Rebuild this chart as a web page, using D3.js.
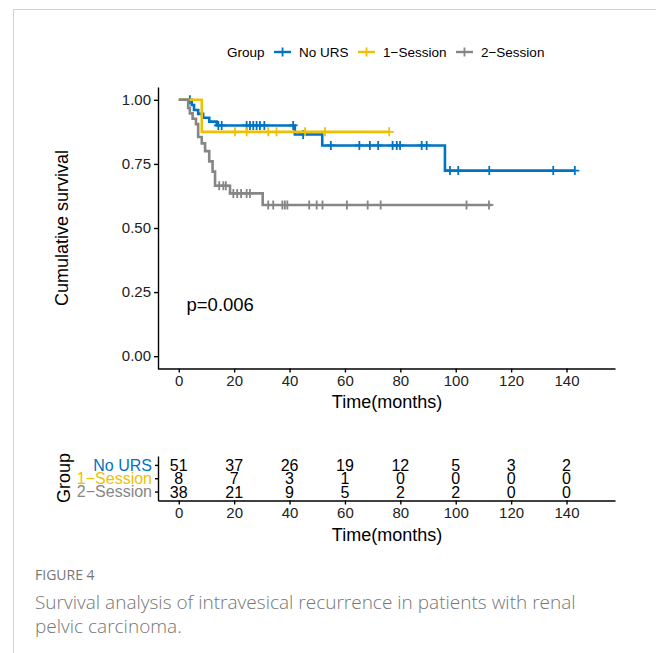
<!DOCTYPE html>
<meta charset="utf-8">
<html>
<head>
<title>Survival analysis of intravesical recurrence</title>
<style>
  body { margin: 0; background: #fff; }
  svg text { font-family: 'Liberation Sans', Arial, sans-serif; fill: #000; }
  .axis path, .axis line { stroke: #000; stroke-width: 1.4px; }
  .axis text { font-size: 15px; fill: #222; }
  .caption { font-family: 'Open Sans', sans-serif !important; fill: #767676 !important; }
</style>
</head>
<body>
<svg width="656" height="653"></svg>
<script src="https://cdn.jsdelivr.net/npm/d3@7"></script>
<script>

// ---- data ----
var groups = ["No URS", "1\u2212Session", "2\u2212Session"];
var colors = ["#0073C2", "#EFC000", "#868686"];

// step function of each KM curve: time (months) where survival drops, and new level
var stepTimes = [
  [0, 4.7, 5.5, 7.0, 8.8, 11.0, 13.7, 41.9, 51.8, 96.1],
  [0, 8.3],
  [0, 3.4, 4.0, 5.0, 6.2, 7.0, 8.3, 9.5, 11.0, 12.2, 13.1, 18.5, 30.3]
];
var stepSurv = [
  [1, 0.98, 0.96, 0.945, 0.93, 0.915, 0.90, 0.865, 0.822, 0.724],
  [1, 0.875],
  [1, 0.968, 0.947, 0.926, 0.905, 0.855, 0.83, 0.80, 0.76, 0.72, 0.665, 0.635, 0.59]
];
var endTimes = [143, 76, 113];
var censorTimes = [
  [4.0, 14.3, 15.5, 24.5, 25.7, 26.9, 28.1, 29.3, 30.9, 41.3, 44.9, 54.9, 65.2, 69.0, 72.0,
   77.2, 78.7, 79.9, 87.7, 89.5, 97.9, 100.9, 112.1, 135.2, 143.0],
  [20.3, 24.5, 32.3, 35.3, 45.6, 52.8, 76.0],
  [14.6, 16.1, 17.0, 19.7, 21.1, 22.5, 24.5, 25.7, 32.3, 34.1, 37.4, 38.3, 39.2, 47.1, 49.8,
   51.9, 60.7, 68.2, 72.9, 103.9, 112.0]
];

var timeTicks = [0, 20, 40, 60, 80, 100, 120, 140];
var survTicks = [0, 0.25, 0.5, 0.75, 1];
var atRisk = [
  [51, 37, 26, 19, 12, 5, 3, 2],
  [8, 7, 3, 1, 0, 0, 0, 0],
  [38, 21, 9, 5, 2, 2, 0, 0]
];
var pText = "p=0.006";

// ---- layout ----
var svg = d3.select("svg");

// figure frame
svg.append("rect")
    .attr("x", 13.5).attr("y", 9.5)
    .attr("width", 700).attr("height", 700)
    .attr("fill", "none").attr("stroke", "#d2d2d2");

var x = d3.scaleLinear().domain([-7.5, 157.5]).range([158, 615]);
var y = d3.scaleLinear().domain([-0.05, 1.05]).range([369, 87]);

svg.append("g").attr("class", "axis")
    .attr("transform", "translate(0,368.5)")
    .call(d3.axisBottom(x).tickValues(timeTicks).tickSize(4).tickPadding(3).tickSizeOuter(0));

svg.append("g").attr("class", "axis")
    .attr("transform", "translate(158,0)")
    .call(d3.axisLeft(y).tickValues(survTicks).tickFormat(d3.format(".2f"))
      .tickSize(4).tickPadding(3).tickSizeOuter(0));

svg.append("text")
    .attr("x", 387).attr("y", 408)
    .attr("text-anchor", "middle")
    .style("font-size", "18px")
    .text("Time(months)");

svg.append("text")
    .attr("transform", "translate(68,228) rotate(-90)")
    .attr("text-anchor", "middle")
    .style("font-size", "18px")
    .text("Cumulative survival");

// curves
function survAt(g, t) {
  var s = 1;
  stepTimes[g].forEach(function(st, i) { if (st <= t) s = stepSurv[g][i]; });
  return s;
}

var line = d3.line()
    .x(function(d) { return x(d[0]); })
    .y(function(d) { return y(d[1]); })
    .curve(d3.curveStepAfter);

groups.forEach(function(name, g) {
  var pts = stepTimes[g].map(function(t, i) { return [t, stepSurv[g][i]]; });
  pts.push([endTimes[g], survAt(g, endTimes[g])]);

  svg.append("path")
      .datum(pts)
      .attr("d", line)
      .attr("fill", "none")
      .attr("stroke", colors[g])
      .attr("stroke-width", 2.6);

  svg.selectAll(".cens" + g)
    .data(censorTimes[g])
    .enter().append("path")
      .attr("class", "cens" + g)
      .attr("transform", function(t) { return "translate(" + x(t) + "," + y(survAt(g, t)) + ")"; })
      .attr("d", "M-4.5,0H4.5M0,-4.5V4.5")
      .attr("stroke", colors[g])
      .attr("stroke-width", 1.8);
});

svg.append("text")
    .attr("x", x(2.8)).attr("y", y(0.2) + 6)
    .style("font-size", "18.5px")
    .text(pText);

// legend on top
var leg = svg.append("g").attr("transform", "translate(227,52)");
var title = leg.append("text").attr("y", 5).style("font-size", "13.5px").text("Group");
var lx = title.node().getComputedTextLength() + 9.5;
groups.forEach(function(name, g) {
  var item = leg.append("g").attr("transform", "translate(" + lx + ",0)");
  item.append("path").attr("d", "M0,0H17").attr("stroke", colors[g]).attr("stroke-width", 2.4);
  item.append("path").attr("d", "M8.5,-4.5V4.5M4,0H13").attr("stroke", colors[g]).attr("stroke-width", 1.8);
  var t = item.append("text").attr("x", 25).attr("y", 5).style("font-size", "13.5px").text(name);
  lx += 25 + t.node().getComputedTextLength() + 9.5;
});

// ---- risk table ----
var yr = d3.scalePoint().domain(groups).range([456, 500.5]).padding(0.67);

svg.append("g").attr("class", "axis")
    .attr("transform", "translate(0,500.5)")
    .call(d3.axisBottom(x).tickValues(timeTicks).tickSize(4).tickPadding(3).tickSizeOuter(0));

var rAxis = svg.append("g").attr("class", "axis")
    .attr("transform", "translate(158,0)")
    .call(d3.axisLeft(yr).tickSize(3).tickPadding(3).tickSizeOuter(0));
rAxis.selectAll(".tick text")
    .style("font-size", "16px")
    .style("fill", function(d, i) { return colors[i]; });

groups.forEach(function(name, g) {
  svg.selectAll(".risk" + g)
    .data(atRisk[g])
    .enter().append("text")
      .attr("class", "risk" + g)
      .attr("x", function(d, i) { return x(timeTicks[i]); })
      .attr("y", yr(name) + 6)
      .attr("text-anchor", "middle")
      .style("font-size", "16px")
      .text(function(d) { return d; });
});

svg.append("text")
    .attr("x", 387).attr("y", 541)
    .attr("text-anchor", "middle")
    .style("font-size", "18px")
    .text("Time(months)");

svg.append("text")
    .attr("transform", "translate(70,478) rotate(-90)")
    .attr("text-anchor", "middle")
    .style("font-size", "18px")
    .text("Group");

// ---- caption ----
svg.append("text").attr("class", "caption")
    .attr("x", 35).attr("y", 580)
    .style("font-size", "14px").style("font-weight", "500")
    .text("FIGURE 4");
var cap1 = svg.append("text").attr("class", "caption")
    .attr("x", 35).attr("y", 609)
    .style("font-size", "17px").style("font-weight", "300")
    .text("Survival analysis of intravesical recurrence in patients with renal");
// fit the first caption line to the width seen in the figure
var capSize = 17 * 541 / cap1.node().getComputedTextLength();
cap1.style("font-size", capSize + "px");
svg.append("text").attr("class", "caption")
    .attr("x", 35).attr("y", 633)
    .style("font-size", capSize + "px").style("font-weight", "300")
    .text("pelvic carcinoma.");

</script>
</body>
</html>
